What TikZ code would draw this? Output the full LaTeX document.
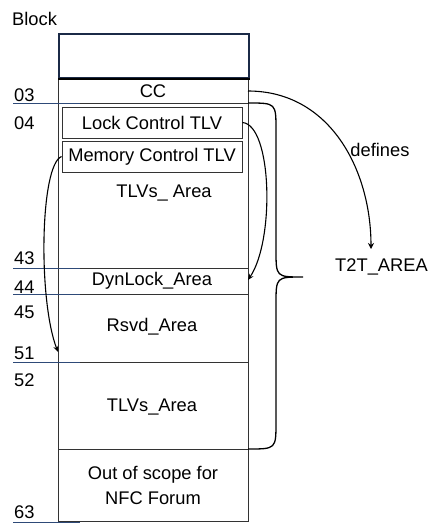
\documentclass[tikz,border=0pt]{standalone}
\usepackage{fontspec}
\setmainfont{Liberation Sans}
\usetikzlibrary{arrows.meta}
\definecolor{navy}{HTML}{1B2A47}
\definecolor{tickblue}{HTML}{2E4A78}
\definecolor{linegray}{HTML}{333333}
\definecolor{tipviolet}{HTML}{7A1A7A}
\begin{document}
\begin{tikzpicture}[x=1pt,y=-1pt,
  every node/.style={font=\fontsize{18.3}{22}\selectfont, inner sep=0pt},
  row/.style={draw=linegray, line width=0.9pt, minimum width=190pt, anchor=north west},
  tlvbox/.style={draw=linegray, line width=0.9pt, minimum width=180pt, minimum height=31pt},
  tick/.style={draw=tickblue, line width=0.9pt},
  lab/.style={anchor=west},
  conn/.style={draw=black, line width=1.1pt, -{Stealth[length=6pt,width=5pt]}},
  brace/.style={draw=black, line width=1.3pt}
]
\useasboundingbox (0,0) rectangle (430,523);

% rows of the block
\node[row, minimum height=26pt] (cc) at (58,77) {};
\node[row, minimum height=165pt] (tlvA) at (58,103) {};
\node[row, minimum height=26pt] (dyn) at (58,268) {};
\node[row, minimum height=68pt] (rsvd) at (58,294) {};
\node[row, minimum height=87pt] (tlvB) at (58,362) {};
\node[row, minimum height=72pt] (oos) at (58,449) {};
\node[row, draw=navy, line width=2pt, minimum height=44pt] (top) at (58,33) {};
\draw[black, line width=1.8pt] (top.south west) -- (top.south east);

% texts in rows
\node (cctxt) at (153,91) {CC};
\node[tlvbox] (lock) at (152,122.5) {Lock Control TLV};
\node[tlvbox] (mem) at (152,156.5) {Memory Control TLV};
\node (tlvAtxt) at (164,193) {TLVs\_ Area};
\node (dyntxt) at (152,281) {DynLock\_Area};
\node (rsvdtxt) at (152,327) {Rsvd\_Area};
\node (tlvBtxt) at (152,407) {TLVs\_Area};
\node[align=center, font=\fontsize{18.3}{25}\selectfont] (oostxt) at (153,485.5) {Out of scope for\\NFC Forum};

% left labels and ticks
\node[lab] (block) at (12,19) {Block};
\node[lab] (l03) at (14,95) {03};
\node[lab] (l04) at (14,123) {04};
\node[lab] (l43) at (14,258) {43};
\node[lab] (l44) at (14,287) {44};
\node[lab] (l45) at (14,312) {45};
\node[lab] (l51) at (14,353) {51};
\node[lab] (l52) at (14,380) {52};
\node[lab] (l63) at (14,512) {63};
\draw[tick] (13,103) -- (80,103);
\draw[tick] (13,268) -- (80,268);
\draw[tick] (13,294) -- (80,294);
\draw[tick] (13,362) -- (80,362);
\draw[tick] (13,522) -- (80,522);

% right side
\node (defines) at (380,150) {defines};
\node (t2t) at (381.5,267) {T2T\_AREA};
\coordinate (deftip) at (371,249);
\coordinate (cce) at (248,91);
\coordinate (dyntip) at (248,280);
\coordinate (rsvdtip) at (58,352);

\draw[draw=black, line width=1.1pt, -{Stealth[length=6pt,width=6pt,fill=tipviolet]}]
  (cce) .. controls (330,91) and (371,170) .. (deftip);
\draw[conn] (lock.east) .. controls (272,125) and (275,240) .. (dyntip);
\draw[conn] (mem.west) .. controls (40,165) and (38,300) .. (rsvdtip);

% brace
\draw[brace] (248,103) .. controls (276,103) .. (276,130) -- (276,250)
  .. controls (276,277) .. (303,277) .. controls (276,277) .. (276,304)
  -- (276,422) .. controls (276,449) .. (248,449);
\end{tikzpicture}
\end{document}
